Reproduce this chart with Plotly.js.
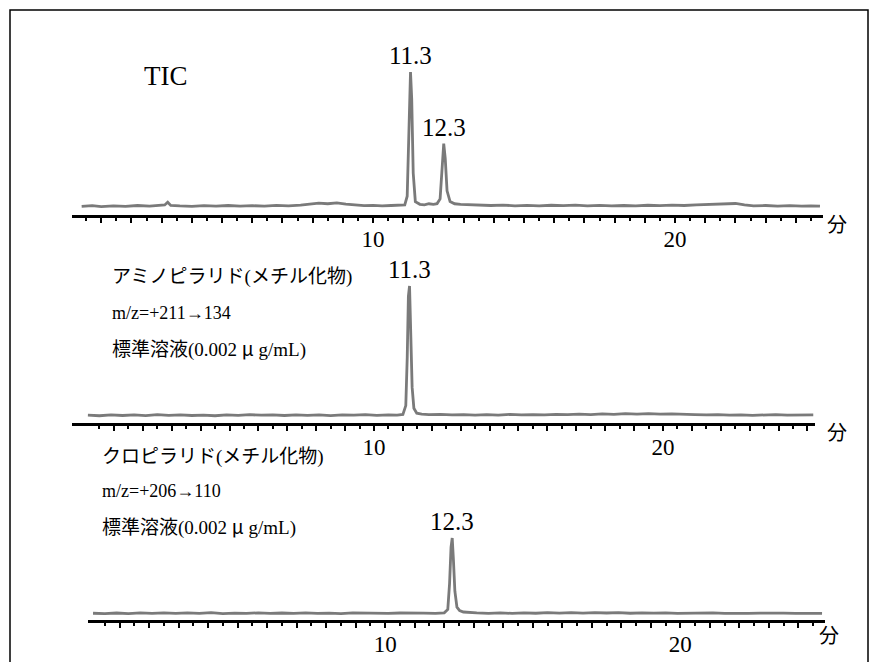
<!DOCTYPE html>
<html>
<head>
<meta charset="utf-8">
<script src="https://cdn.plot.ly/plotly-3.0.1.min.js"></script>
<style>html,body{margin:0;padding:0;background:#fff;}#chart{width:878px;height:662px;}</style>
</head>
<body>
<div id="chart"></div>
<script>
// ---- data (time in minutes, relative intensity) ----
var tTIC = [0.35,0.7,1.0,1.4,1.8,2.2,2.6,2.9,3.1,3.2,3.3,3.6,4.0,4.4,4.8,5.2,5.6,6.0,6.4,6.8,7.2,7.6,7.9,8.2,8.5,8.8,9.1,9.4,9.7,10.0,10.3,10.6,10.9,
  11.05,11.13,11.19,11.24,11.28,11.33,11.4,11.55,11.7,11.85,12.0,12.12,12.22,12.29,12.34,12.39,12.45,12.55,12.7,12.9,13.2,13.5,
  13.9,14.3,14.7,15.1,15.5,15.9,16.3,16.7,17.1,17.5,17.9,18.3,18.7,19.1,19.5,19.9,20.3,20.7,21.1,21.4,21.7,22.0,22.3,22.6,23.0,23.4,23.8,24.2,24.5,24.8];
var yTIC = [0.5,1.0,0.3,0.9,0.4,1.1,0.6,1.2,1.5,3.5,1.2,0.8,0.5,1.0,0.6,1.1,0.7,1.0,0.6,1.2,0.9,1.4,2.2,2.8,2.4,3.0,2.1,1.5,1.0,1.2,0.8,1.1,1.0,
  1.5,8,55,100,80,25,4,2.0,1.6,2.4,2.0,2.5,6,30,47,36,12,4,2.4,2.0,1.8,1.5,
  1.1,1.4,0.9,1.2,0.8,1.3,1.0,1.4,0.9,1.2,0.8,1.1,0.9,1.3,1.0,1.4,1.1,1.6,1.9,2.4,2.1,2.6,1.5,0.8,1.1,0.7,1.0,0.6,0.9,0.7];

var tAmi = [0.1,0.5,0.9,1.3,1.7,2.1,2.5,2.9,3.3,3.7,4.1,4.5,4.9,5.3,5.7,6.1,6.5,6.9,7.3,7.7,8.1,8.5,8.9,9.3,9.7,10.1,10.5,
  10.8,11.0,11.1,11.15,11.19,11.23,11.27,11.32,11.38,11.48,11.65,11.9,
  12.3,12.7,13.1,13.5,13.9,14.3,14.7,15.1,15.5,15.9,16.3,16.7,17.1,17.5,17.9,18.3,18.7,19.1,19.5,19.9,20.3,20.7,21.1,21.5,21.9,22.3,22.7,23.1,23.5,23.9,24.3,24.7,25.2];
var yAmi = [0.6,0.2,0.9,0.4,0.8,0.3,1.0,0.5,0.9,0.4,0.7,0.2,0.8,0.5,1.0,0.6,0.9,0.4,0.8,0.5,0.9,0.3,0.8,0.6,1.0,0.5,0.9,
  0.7,1.2,8,45,92,100,70,22,6,2.2,1.4,1.0,
  1.3,0.8,1.1,0.6,1.0,0.7,1.2,0.8,1.1,0.9,1.3,1.0,1.4,1.1,1.6,1.3,1.8,1.5,1.9,1.4,1.7,1.2,1.0,0.8,1.1,0.6,0.9,0.5,0.8,1.1,0.7,1.0,0.8];

var tClo = [0.1,0.5,0.9,1.3,1.7,2.1,2.5,2.9,3.3,3.7,4.1,4.5,4.9,5.3,5.7,6.1,6.5,6.9,7.3,7.7,8.1,8.5,8.9,9.3,9.7,10.1,10.5,10.9,11.3,11.7,
  12.0,12.12,12.18,12.23,12.27,12.31,12.36,12.43,12.52,12.65,12.85,13.1,
  13.5,13.9,14.3,14.7,15.1,15.5,15.9,16.3,16.7,17.1,17.5,17.9,18.3,18.7,19.1,19.5,19.9,20.3,20.7,21.1,21.5,21.9,22.3,22.7,23.1,23.5,23.9,24.3,24.8];
var yClo = [1.0,0.4,1.3,0.6,1.5,0.8,1.6,0.7,1.4,0.9,1.7,0.6,1.2,0.8,1.5,0.7,1.3,0.9,1.6,0.8,1.2,0.6,1.4,0.9,1.1,0.7,1.3,0.8,1.2,0.9,
  1.5,6,40,88,100,72,30,9,4.5,2.6,1.8,1.4,
  0.9,1.5,0.8,1.6,1.0,1.7,1.1,1.8,1.2,1.9,1.3,1.7,1.0,1.6,1.1,1.5,0.9,1.4,1.0,1.6,0.8,1.3,0.9,1.2,0.7,1.1,0.8,1.0,0.9];

var peakTimes = [11.24, 12.34, 11.23, 12.27];
var peakVals  = [100, 47, 100, 100];
var peakLabels = ['11.3', '12.3', '11.3', '12.3'];
var tickMinutes = [1,2,3,4,5,6,7,8,9,10,11,12,13,14,15,16,17,18,19,20,21,22,23,24,25];
var tickLabels = tickMinutes.map(function(v){ return (v === 10 || v === 20) ? String(v) : ''; });

var W = 878, H = 662;
function px(x){ return x / W; }
function py(y){ return 1 - y / H; }

var FONT = 'Times New Roman, Liberation Serif, Noto Sans CJK JP, serif';
var JP = 'Noto Sans CJK JP';
var lineStyle = {color: '#7a7a7a', width: 2.8};

var traces = [
  {x: tTIC, y: yTIC, xaxis: 'x', yaxis: 'y', mode: 'lines', line: lineStyle, hoverinfo: 'skip'},
  {x: tAmi, y: yAmi, xaxis: 'x2', yaxis: 'y2', mode: 'lines', line: lineStyle, hoverinfo: 'skip'},
  {x: tClo, y: yClo, xaxis: 'x3', yaxis: 'y3', mode: 'lines', line: lineStyle, hoverinfo: 'skip'}
];

function xAxis(domain, range, anchor){
  return {
    domain: domain, range: range, anchor: anchor,
    showline: true, linecolor: '#000', linewidth: 3,
    showgrid: false, zeroline: false,
    tickmode: 'array', tickvals: tickMinutes, ticktext: tickLabels,
    ticks: 'outside', ticklen: 5, tickwidth: 2, tickcolor: '#000',
    ticklabelstandoff: -4,
    minor: {tickmode: 'linear', tick0: 0.5, dtick: 1, ticks: 'outside', ticklen: 3, tickwidth: 2, tickcolor: '#000', showgrid: false},
    tickfont: {family: FONT, size: 23, color: '#000'},
    fixedrange: true
  };
}
function yAxis(domain, range){
  return {domain: domain, range: range, showline: false, showgrid: false, zeroline: false,
          showticklabels: false, ticks: '', fixedrange: true};
}

var anns = [];
var axRefs = [['x','y'],['x','y'],['x2','y2'],['x3','y3']];
for (var i = 0; i < peakTimes.length; i++) {
  anns.push({x: peakTimes[i], y: peakVals[i], xref: axRefs[i][0], yref: axRefs[i][1],
    text: peakLabels[i], showarrow: false, yanchor: 'bottom', xanchor: 'center', yshift: 1,
    font: {family: FONT, size: 25, color: '#000'}});
}
function txt(x, y, s, size){
  anns.push({x: px(x), y: py(y), xref: 'paper', yref: 'paper', text: s, showarrow: false,
    xanchor: 'left', yanchor: 'middle', font: {family: FONT, size: size, color: '#000'}});
}
function unit(x, y){
  anns.push({x: px(x), y: py(y), xref: 'paper', yref: 'paper', text: '分', showarrow: false,
    xanchor: 'center', yanchor: 'middle', font: {family: JP, size: 20, color: '#000'}});
}
var mu = '<span style="font-family:Noto Sans CJK JP">μ</span>';
txt(142, 76, 'TIC', 27);
txt(110, 277, 'アミノピラリド(メチル化物)', 19);
txt(110, 313, 'm/z=+211→134', 18);
txt(110, 348, '標準溶液(0.002 ' + mu + ' g/mL)', 19);
txt(100, 457, 'クロピラリド(メチル化物)', 19);
txt(100, 491, 'm/z=+206→110', 18);
txt(100, 525, '標準溶液(0.002 ' + mu + ' g/mL)', 19);
unit(837, 223);
unit(837, 431);
unit(829, 634);

var layout = {
  width: W, height: H, margin: {l: 0, r: 0, t: 0, b: 0},
  paper_bgcolor: '#fff', plot_bgcolor: 'rgba(0,0,0,0)',
  showlegend: false,
  xaxis:  xAxis([px(72), px(823)], [0.03, 24.9], 'y'),
  yaxis:  yAxis([py(215), py(40)], [-(215-207)/1.35, (207-40)/1.35]),
  xaxis2: xAxis([px(72), px(815)], [-0.45, 25.26], 'y2'),
  yaxis2: yAxis([py(423), py(250)], [-(423-416)/1.3, (416-250)/1.3]),
  xaxis3: xAxis([px(88), px(825)], [-0.07, 24.9], 'y3'),
  yaxis3: yAxis([py(620), py(480)], [-(620-614)/0.76, (614-480)/0.76]),
  annotations: anns,
  shapes: [{type: 'rect', xref: 'paper', yref: 'paper', x0: px(10), x1: px(868), y0: py(675), y1: py(10),
            line: {color: '#000', width: 1.5}, fillcolor: 'rgba(0,0,0,0)'}]
};

Plotly.newPlot('chart', traces, layout, {displayModeBar: false, staticPlot: true});
</script>
</body>
</html>
